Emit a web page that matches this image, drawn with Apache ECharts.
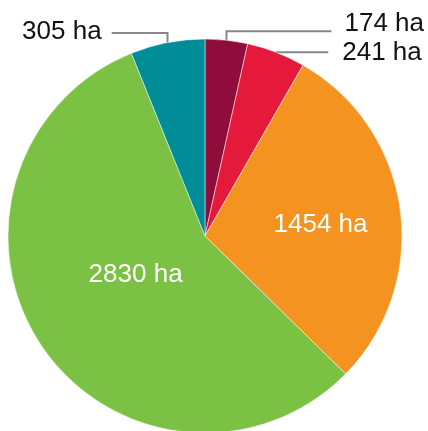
<!DOCTYPE html>
<html>
<head>
<meta charset="utf-8">
<script src="https://cdn.jsdelivr.net/npm/echarts@6/dist/echarts.min.js"></script>
<style>
html,body{margin:0;padding:0;background:#fff;}
#chart{width:428px;height:431px;}
</style>
</head>
<body>
<div id="chart"></div>
<script>
const categories = ['A', 'B', 'C', 'D', 'E'];
const values = [174, 241, 1454, 2830, 305];
const unit = 'ha';
const colors = ['#8E0D3A', '#E51A3A', '#F4931F', '#7BC143', '#008D97'];
const inside = [false, false, true, true, false];

const chart = echarts.init(document.getElementById('chart'), null, {renderer: 'canvas'});

const lineLen = [9, 0.1, 0, 0, 9.8];
const lineLen2 = [104, 52, 0, 0, 54];
const labelGap = [13, 14, 0, 0, 10];
const shift = [[0, -7], [0, 1], [15, 3], [15, -18], [0, -1]];

const data = values.map((v, i) => ({
  name: categories[i],
  value: v,
  itemStyle: {color: colors[i]},
  label: inside[i]
    ? {position: 'inside', color: '#fff'}
    : {position: 'outside', color: '#111', distanceToLabelLine: labelGap[i]},
  labelLine: inside[i]
    ? {show: false}
    : {show: true, length: lineLen[i], length2: lineLen2[i], smooth: false,
       lineStyle: {color: '#888888', width: 2}}
}));

chart.setOption({
  backgroundColor: '#fff',
  animation: false,
  series: [{
    type: 'pie',
    center: [205, 236],
    radius: 197,
    startAngle: 90,
    clockwise: true,
    avoidLabelOverlap: false,
    data: data,
    itemStyle: {borderColor: '#fff', borderWidth: 0.5},
    label: {
      show: true,
      fontFamily: 'Liberation Sans, Arial, sans-serif',
      fontSize: 26,
      formatter: p => p.value + ' ' + unit,
      overflow: 'none'
    },
    labelLayout: function (params) {
      const i = params.dataIndex;
      const res = {dx: shift[i][0], dy: shift[i][1]};
      const pts = params.labelLinePoints;
      if (pts && pts.length === 3 && !inside[i]) {
        res.labelLinePoints = [
          pts[0],
          [pts[0][0], pts[1][1]],
          [pts[2][0], pts[1][1]]
        ];
      }
      return res;
    }
  }]
});
</script>
</body>
</html>
